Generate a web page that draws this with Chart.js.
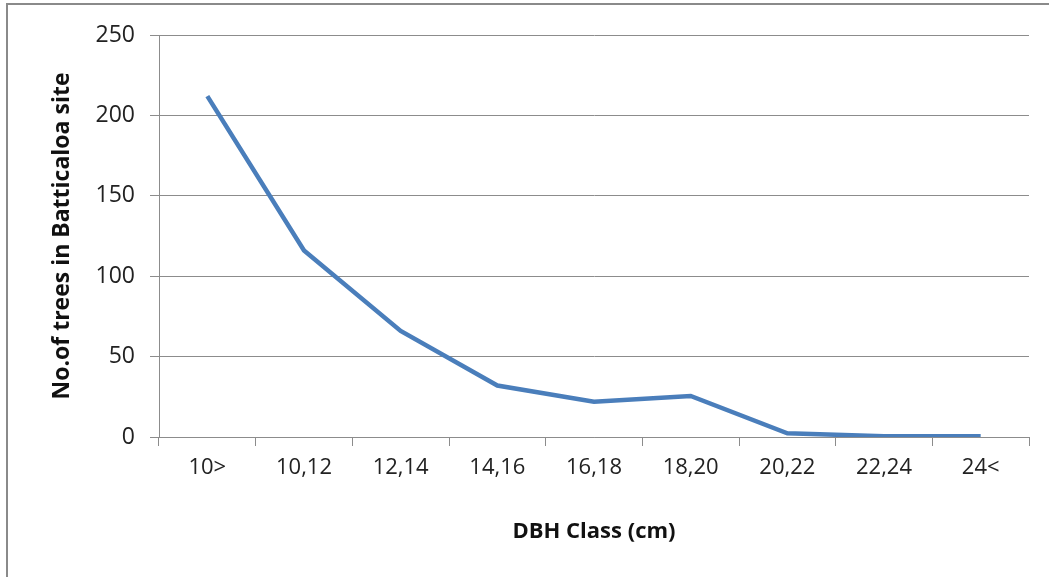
<!DOCTYPE html>
<html>
<head>
<meta charset="utf-8">
<script src="https://cdn.jsdelivr.net/npm/chart.js@4"></script>
<style>
  html, body { margin: 0; padding: 0; background: #fff; overflow: hidden; }
  #wrap { position: relative; width: 1049px; height: 577px; }
  #frame { position: absolute; left: 6px; top: 3px; width: 1100px; height: 700px; border: 2px solid #8a8a8a; }
  #c { position: absolute; left: 0; top: 0; }
</style>
</head>
<body>
<div id="wrap">
  <div id="frame"></div>
  <canvas id="c" width="1049" height="577"></canvas>
</div>
<script>
// データ
const categories = ['10>', '10,12', '12,14', '14,16', '16,18', '18,20', '20,22', '22,24', '24<'];
const treeCounts = [212, 116, 66, 32, 22, 25.5, 2.3, 0.5, 0.5];
const yTicks = [0, 50, 100, 150, 200, 250];

const gridColor = '#8c8c8c';
const fontFamily = '"Open Sans", Lato, sans-serif';

new Chart(document.getElementById('c'), {
  type: 'line',
  data: {
    labels: categories,
    datasets: [{
      data: treeCounts,
      borderColor: '#4a7ebb',
      borderWidth: 4.5,
      pointRadius: 0,
      tension: 0,
      fill: false
    }]
  },
  options: {
    responsive: false,
    animation: false,
    layout: { padding: { left: 49, right: 20, top: 35, bottom: 22 } },
    plugins: { legend: { display: false }, tooltip: { enabled: false } },
    scales: {
      x: {
        offset: true,
        grid: {
          offset: true,
          drawOnChartArea: false,
          drawTicks: true,
          tickLength: 9,
          color: gridColor
        },
        border: { color: gridColor, width: 1 },
        ticks: { color: '#222', font: { family: fontFamily, size: 22 }, padding: 9, maxRotation: 0 },
        title: {
          display: true,
          text: 'DBH Class (cm)',
          color: '#111',
          font: { family: fontFamily, size: 22, weight: 'bold' },
          padding: { top: 18, bottom: 10 }
        },
        afterFit: function(scale) { scale.height = 577 - 437 - 22; }
      },
      y: {
        min: 0,
        max: 250,
        afterBuildTicks: function(scale) { scale.ticks = yTicks.map(v => ({ value: v })); },
        grid: { color: gridColor, tickLength: 9, drawTicks: true },
        border: { color: gridColor, width: 1 },
        ticks: { color: '#222', font: { family: fontFamily, size: 23 }, padding: 15 },
        title: {
          display: true,
          text: 'No.of trees in Batticaloa site',
          color: '#111',
          font: { family: fontFamily, size: 23, weight: 'bold' },
          padding: { top: 0, bottom: 10 }
        },
        afterFit: function(scale) { scale.width = 159 - 49; }
      }
    }
  }
});
</script>
</body>
</html>
